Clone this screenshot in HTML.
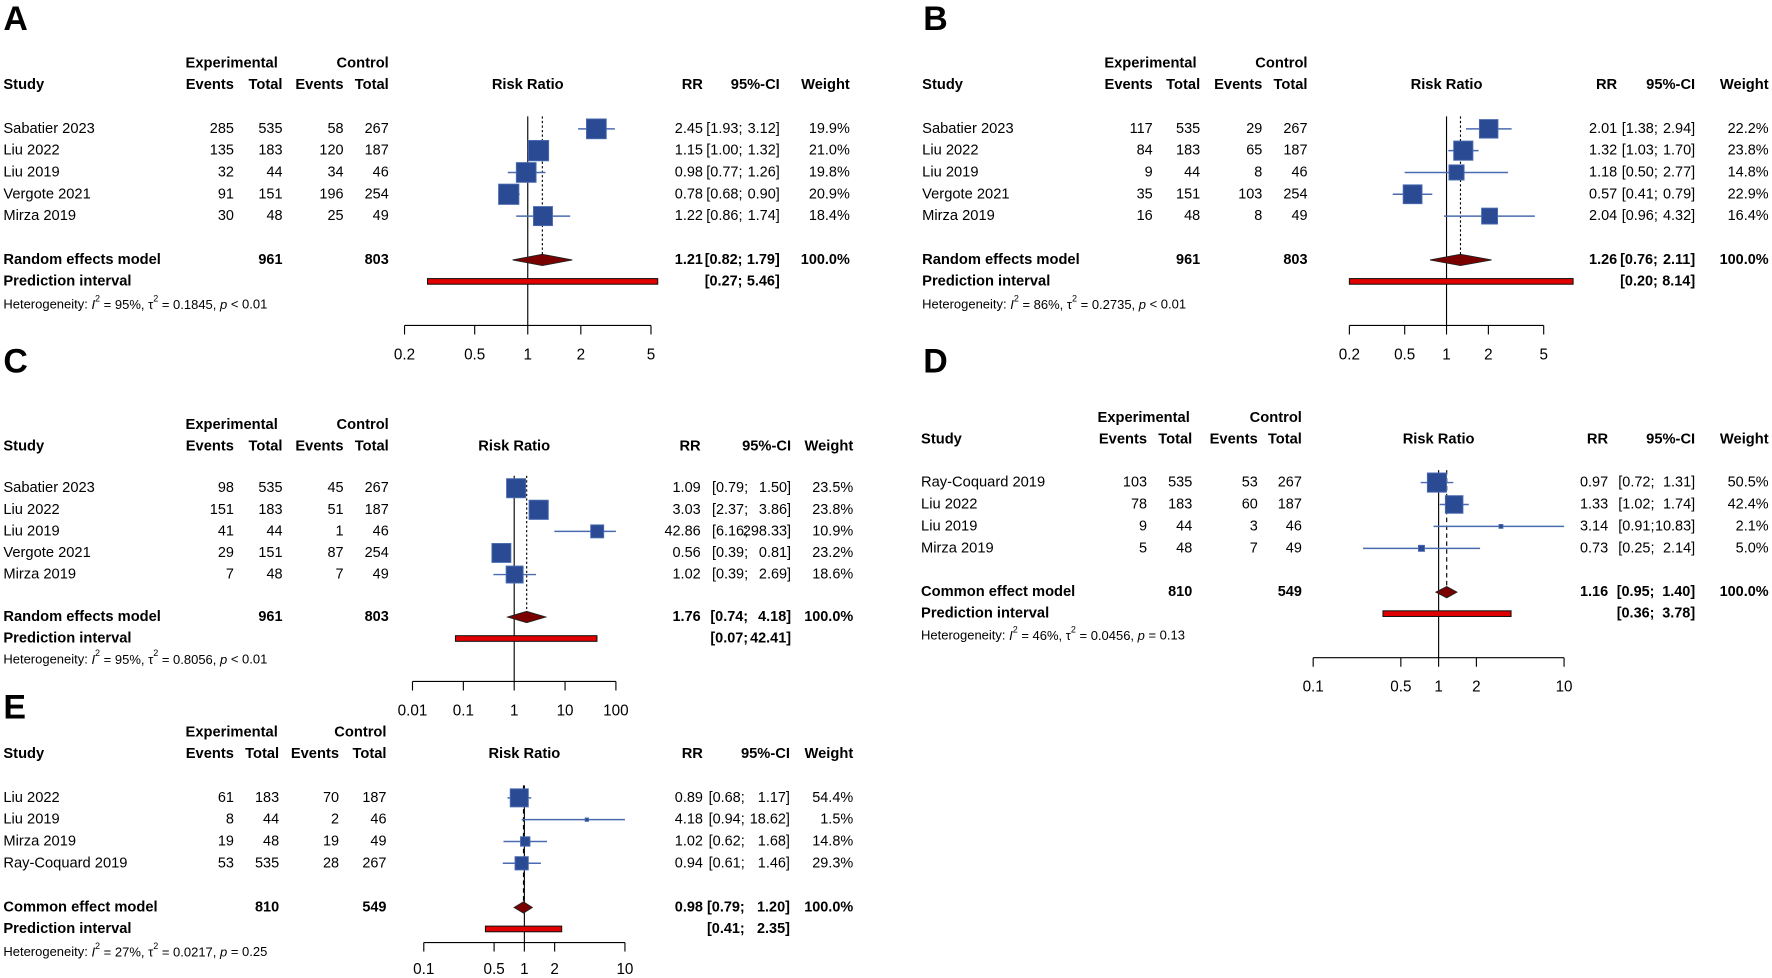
<!DOCTYPE html>
<html><head><meta charset="utf-8"><style>
html,body{margin:0;padding:0;background:#fff}
svg{display:block}
text{font-family:"Liberation Sans",Arial,sans-serif;font-size:13px;fill:#000}
.b{font-weight:bold}
.n{font-size:12.8px}
</style></head><body>
<svg id="fig" width="1772" height="978" viewBox="0 0 1568 865.4" xmlns="http://www.w3.org/2000/svg"></svg>
<script>
// ---------- data ----------
const studiesA=["Sabatier 2023","Liu 2022","Liu 2019","Vergote 2021","Mirza 2019"];
const expEvA=[285,135,32,91,30], expTotA=[535,183,44,151,48], ctlEvA=[58,120,34,196,25], ctlTotA=[267,187,46,254,49];
const rrA=[2.45,1.15,0.98,0.78,1.22], loA=[1.93,1.00,0.77,0.68,0.86], hiA=[3.12,1.32,1.26,0.90,1.74], wA=[19.9,21.0,19.8,20.9,18.4];
const sumA=[1.21,0.82,1.79], piA=[0.27,5.46], totA=[961,803], hetA=["95%","0.1845","< 0.01"];

const studiesB=["Sabatier 2023","Liu 2022","Liu 2019","Vergote 2021","Mirza 2019"];
const expEvB=[117,84,9,35,16], expTotB=[535,183,44,151,48], ctlEvB=[29,65,8,103,8], ctlTotB=[267,187,46,254,49];
const rrB=[2.01,1.32,1.18,0.57,2.04], loB=[1.38,1.03,0.50,0.41,0.96], hiB=[2.94,1.70,2.77,0.79,4.32], wB=[22.2,23.8,14.8,22.9,16.4];
const sumB=[1.26,0.76,2.11], piB=[0.20,8.14], totB=[961,803], hetB=["86%","0.2735","< 0.01"];

const studiesC=["Sabatier 2023","Liu 2022","Liu 2019","Vergote 2021","Mirza 2019"];
const expEvC=[98,151,41,29,7], expTotC=[535,183,44,151,48], ctlEvC=[45,51,1,87,7], ctlTotC=[267,187,46,254,49];
const rrC=[1.09,3.03,42.86,0.56,1.02], loC=[0.79,2.37,6.16,0.39,0.39], hiC=[1.50,3.86,298.33,0.81,2.69], wC=[23.5,23.8,10.9,23.2,18.6];
const sumC=[1.76,0.74,4.18], piC=[0.07,42.41], totC=[961,803], hetC=["95%","0.8056","< 0.01"];

const studiesD=["Ray-Coquard 2019","Liu 2022","Liu 2019","Mirza 2019"];
const expEvD=[103,78,9,5], expTotD=[535,183,44,48], ctlEvD=[53,60,3,7], ctlTotD=[267,187,46,49];
const rrD=[0.97,1.33,3.14,0.73], loD=[0.72,1.02,0.91,0.25], hiD=[1.31,1.74,10.83,2.14], wD=[50.5,42.4,2.1,5.0];
const sumD=[1.16,0.95,1.40], piD=[0.36,3.78], totD=[810,549], hetD=["46%","0.0456","= 0.13"];

const studiesE=["Liu 2022","Liu 2019","Mirza 2019","Ray-Coquard 2019"];
const expEvE=[61,8,19,53], expTotE=[183,44,48,535], ctlEvE=[70,2,19,28], ctlTotE=[187,46,49,267];
const rrE=[0.89,4.18,1.02,0.94], loE=[0.68,0.94,0.62,0.61], hiE=[1.17,18.62,1.68,1.46], wE=[54.4,1.5,14.8,29.3];
const sumE=[0.98,0.79,1.20], piE=[0.41,2.35], totE=[810,549], hetE=["27%","0.0217","= 0.25"];

const ticksAB=[0.2,0.5,1,2,5], ticksC=[0.01,0.1,1,10,100], ticksDE=[0.1,0.5,1,2,10];

// ---------- rendering ----------
const NS="http://www.w3.org/2000/svg";
const svg=document.getElementById('fig');
function el(tag,attrs,parent){const e=document.createElementNS(NS,tag);for(const k in attrs)e.setAttribute(k,attrs[k]);(parent||svg).appendChild(e);return e;}
function txt(x,y,s,anchor,bold,parent,size){const t=el('text',{x:x,y:y,'text-anchor':anchor||'start','dominant-baseline':'central'},parent);if(bold)t.setAttribute('class','b');if(size)t.style.fontSize=size+'px';t.textContent=s;return t;}
function num(x,y,s,bold,parent){const t=txt(x,y,s,'end',bold,parent);t.setAttribute('class',(bold?'b ':'')+'n');return t;}
const f2=v=>v.toFixed(2);

function panel(letter,L,D){
  const g=el('g',{});
  
  
  const X=v=>L.c1+L.ppd*Math.log10(v);
  const lt=txt(L.lx,L.ly,letter,'start',true,g,30);
  
  
  txt(L.expC,L.h1,'Experimental','middle',true,g);
  txt(L.tot2,L.h1,'Control','end',true,g);
  txt(L.sx,L.h2,'Study','start',true,g);
  txt(L.ev1,L.h2,'Events','end',true,g);
  txt(L.tot1,L.h2,'Total','end',true,g);
  txt(L.ev2,L.h2,'Events','end',true,g);
  txt(L.tot2,L.h2,'Total','end',true,g);
  txt(L.c1,L.h2,'Risk Ratio','middle',true,g);
  txt(L.rr,L.h2,'RR','end',true,g);
  txt(L.ci,L.h2,'95%-CI','end',true,g);
  txt(L.wt,L.h2,'Weight','end',true,g);
  const n=D.studies.length;
  const yRow=i=>L.r0+L.step*i;
  const xMin=X(L.ticks[0]), xMax=X(L.ticks[L.ticks.length-1]);
  el('line',{x1:X(1),x2:X(1),y1:L.r0-11,y2:L.axisY,stroke:'#000','stroke-width':1},g);
  el('line',{x1:X(D.sum[0]),x2:X(D.sum[0]),y1:L.r0-11,y2:L.model,stroke:'#000','stroke-width':1,'stroke-dasharray':L.dash},g);
  const maxW=Math.max(...D.w);
  for(let i=0;i<n;i++){
    const y=yRow(i);
    const row=el('g',{},g);
    
    
    txt(L.sx,y,D.studies[i],'start',false,row);
    num(L.ev1,y,String(D.ee[i]),false,row);
    num(L.tot1,y,String(D.et[i]),false,row);
    num(L.ev2,y,String(D.ce[i]),false,row);
    num(L.tot2,y,String(D.ct[i]),false,row);
    num(L.rr,y,f2(D.rr[i]),false,row);
    num(L.ci-L.hiw,y,'['+f2(D.lo[i])+';',false,row);
    num(L.ci,y,f2(D.hi[i])+']',false,row);
    num(L.wt,y,D.w[i].toFixed(1)+'%',false,row);
    const a=Math.max(xMin,X(D.lo[i])), b=Math.min(xMax,X(D.hi[i]));
    const ci=el('line',{x1:a,x2:b,y1:y,y2:y,stroke:'#4a6bb0','stroke-width':1.3},row);
    
    
    const s=Math.max(3,L.sq*Math.sqrt(D.w[i]/maxW));
    const sq=el('rect',{x:X(D.rr[i])-s/2,y:y-s/2,width:s,height:s,fill:'#2b4a94',stroke:'#4a6bb0','stroke-width':0.8},row);
    
    
  }
  txt(L.sx,L.model,L.modelName,'start',true,g);
  num(L.tot1,L.model,String(D.tot[0]),true,g);
  num(L.tot2,L.model,String(D.tot[1]),true,g);
  num(L.rr,L.model,f2(D.sum[0]),true,g);
  num(L.ci-L.hiw,L.model,'['+f2(D.sum[1])+';',true,g);
  num(L.ci,L.model,f2(D.sum[2])+']',true,g);
  num(L.wt,L.model,'100.0%',true,g);
  const dm=el('polygon',{points:`${X(D.sum[1])},${L.model} ${X(D.sum[0])},${L.model-5} ${X(D.sum[2])},${L.model} ${X(D.sum[0])},${L.model+5}`,fill:'#7a0000',stroke:'#222','stroke-width':0.8},g);
  
  
  txt(L.sx,L.pi,'Prediction interval','start',true,g);
  num(L.ci-L.hiw,L.pi,'['+f2(D.pi[0])+';',true,g);
  num(L.ci,L.pi,f2(D.pi[1])+']',true,g);
  const pb=el('rect',{x:X(D.pi[0]),y:L.pi-2.5,width:X(D.pi[1])-X(D.pi[0]),height:5,fill:'#e00000',stroke:'#111','stroke-width':0.9},g);
  
  
  const h=el('text',{x:L.sx,y:L.het,'dominant-baseline':'central'},g);
  h.style.fontSize='11.5px';
  
  
  h.innerHTML=`Heterogeneity: <tspan font-style="italic">I</tspan><tspan dy="-5" font-size="8">2</tspan><tspan dy="5"> = ${D.het[0]}, τ</tspan><tspan dy="-5" font-size="8">2</tspan><tspan dy="5"> = ${D.het[1]}, </tspan><tspan font-style="italic">p</tspan> ${D.het[2]}`;
  const ax=el('g',{},g);
  
  
  el('line',{x1:xMin,x2:xMax,y1:L.axisY,y2:L.axisY,stroke:'#000','stroke-width':1},ax);
  L.ticks.forEach(t=>{
    el('line',{x1:X(t),x2:X(t),y1:L.axisY,y2:L.axisY+8,stroke:'#000','stroke-width':1},ax);
    txt(X(t),L.labelY,String(t),'middle',false,ax,13.5);
  });
}

panel('A',{lx:3,ly:17,sx:3,expC:205,ev1:207,tot1:250,ev2:304,tot2:344,rr:622,ci:690,hiw:33,wt:752,
  h1:56,h2:75,r0:114,step:19.3,model:230,pi:249,het:269,axisY:288,labelY:314,
  c1:467,ppd:156,ticks:ticksAB,dash:'2,2',sq:18,modelName:'Random effects model'},
  {studies:studiesA,ee:expEvA,et:expTotA,ce:ctlEvA,ct:ctlTotA,rr:rrA,lo:loA,hi:hiA,w:wA,sum:sumA,pi:piA,tot:totA,het:hetA});
panel('B',{lx:817,ly:17,sx:816,expC:1018,ev1:1020,tot1:1062,ev2:1117,tot2:1157,rr:1431,ci:1500,hiw:33,wt:1565,
  h1:56,h2:75,r0:114,step:19.3,model:230,pi:249,het:269,axisY:288,labelY:314,
  c1:1280,ppd:123,ticks:ticksAB,dash:'2,2',sq:17,modelName:'Random effects model'},
  {studies:studiesB,ee:expEvB,et:expTotB,ce:ctlEvB,ct:ctlTotB,rr:rrB,lo:loB,hi:hiB,w:wB,sum:sumB,pi:piB,tot:totB,het:hetB});
panel('C',{lx:3,ly:320,sx:3,expC:205,ev1:207,tot1:250,ev2:304,tot2:344,rr:620,ci:700,hiw:38,wt:755,
  h1:376,h2:395,r0:432,step:19.1,model:546,pi:565,het:583,axisY:603,labelY:629,
  c1:455,ppd:45,ticks:ticksC,dash:'2,2',sq:17,modelName:'Random effects model'},
  {studies:studiesC,ee:expEvC,et:expTotC,ce:ctlEvC,ct:ctlTotC,rr:rrC,lo:loC,hi:hiC,w:wC,sum:sumC,pi:piC,tot:totC,het:hetC});
panel('D',{lx:817,ly:320,sx:815,expC:1012,ev1:1015,tot1:1055,ev2:1113,tot2:1152,rr:1423,ci:1500,hiw:36,wt:1565,
  h1:370,h2:389,r0:427,step:19.4,model:524,pi:543,het:562,axisY:582,labelY:608,
  c1:1273,ppd:111,ticks:ticksDE,dash:'4,3',sq:17,modelName:'Common effect model'},
  {studies:studiesD,ee:expEvD,et:expTotD,ce:ctlEvD,ct:ctlTotD,rr:rrD,lo:loD,hi:hiD,w:wD,sum:sumD,pi:piD,tot:totD,het:hetD});
panel('E',{lx:3,ly:626,sx:3,expC:205,ev1:207,tot1:247,ev2:300,tot2:342,rr:622,ci:699,hiw:40,wt:755,
  h1:648,h2:667,r0:706,step:19.3,model:803,pi:822,het:842,axisY:834,labelY:858,
  c1:464,ppd:89,ticks:ticksDE,dash:'4,3',sq:16,modelName:'Common effect model'},
  {studies:studiesE,ee:expEvE,et:expTotE,ce:ctlEvE,ct:ctlTotE,rr:rrE,lo:loE,hi:hiE,w:wE,sum:sumE,pi:piE,tot:totE,het:hetE});
</script>
</body></html>
